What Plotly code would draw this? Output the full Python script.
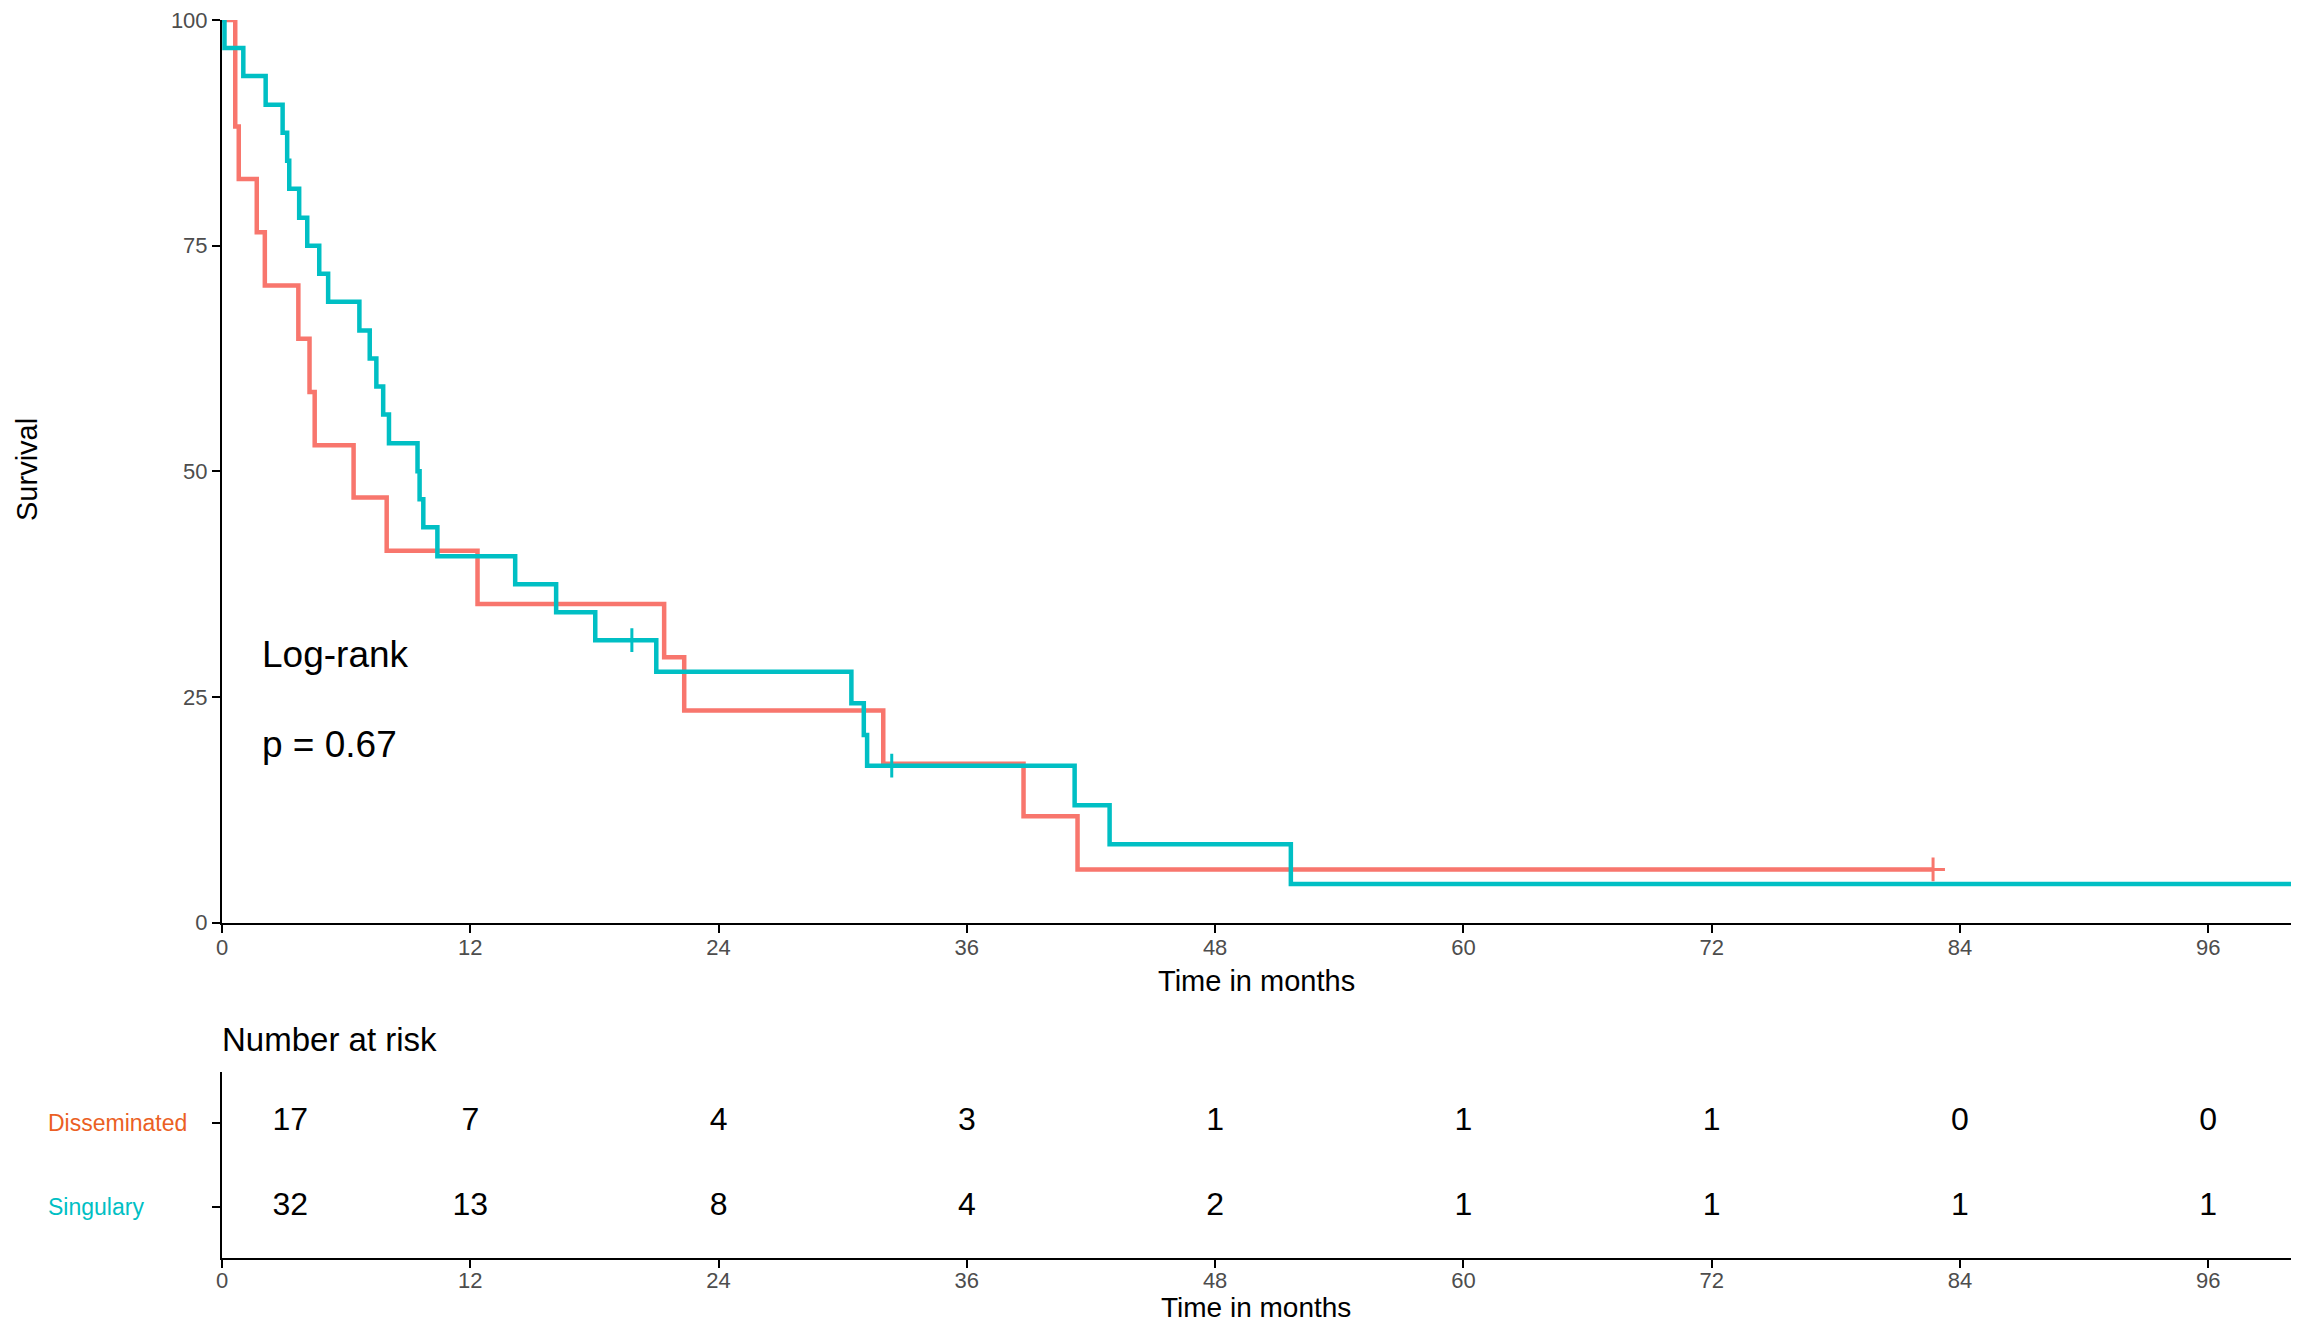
import plotly.graph_objects as go

# Kaplan-Meier curves (time in months, survival in %)
dis_time = [0, 0.64, 0.81, 1.68, 2.07, 3.69, 4.23, 4.48, 6.36, 7.96, 12.35,
            21.37, 22.34, 31.96, 38.74, 41.35, 82.7]
dis_surv = [100, 88.2, 82.4, 76.5, 70.6, 64.7, 58.8, 52.9, 47.1, 41.2, 35.3,
            29.4, 23.5, 17.6, 11.8, 5.9, 5.9]
dis_cens_time = [82.7]
dis_cens_surv = [5.9]

sin_time = [0, 0.12, 1.03, 2.11, 2.93, 3.15, 3.25, 3.73, 4.12, 4.70, 5.13,
            6.64, 7.14, 7.46, 7.79, 8.07, 9.45, 9.55, 9.73, 10.41, 14.17,
            16.15, 18.04, 20.99, 30.42, 31.02, 31.18, 41.21, 42.9, 51.66, 100]
sin_surv = [100, 96.9, 93.8, 90.6, 87.5, 84.4, 81.3, 78.1, 75.0, 71.9, 68.8,
            65.6, 62.5, 59.4, 56.3, 53.1, 50.0, 46.9, 43.8, 40.6, 37.5,
            34.4, 31.3, 27.8, 24.3, 20.8, 17.4, 13.0, 8.7, 4.3, 4.3]
sin_cens_time = [19.81, 32.37]
sin_cens_surv = [31.3, 17.4]

# number-at-risk table
groups = ["Disseminated", "Singulary"]
risk_time = [3.3, 12, 24, 36, 48, 60, 72, 84, 96]
risk_dis = [17, 7, 4, 3, 1, 1, 1, 0, 0]
risk_sin = [32, 13, 8, 4, 2, 1, 1, 1, 1]

x_ticks = [0, 12, 24, 36, 48, 60, 72, 84, 96]
y_ticks = [0, 25, 50, 75, 100]

RED = "#F8766D"
TEAL = "#00BFC4"
FONT = "Liberation Sans, Arial, sans-serif"

# the page body has an 8px margin, so the figure is made smaller and
# positions measured on the full 2308x1332 canvas are shifted by it
OFF = 8
W, H = 2308 - 2 * OFF, 1332 - 2 * OFF


def px(x):
    return (x - OFF) / W


def py(y):
    return 1 - (y - OFF) / H


fig = go.Figure()

# survival curves
fig.add_trace(go.Scatter(x=dis_time, y=dis_surv, mode="lines", line_shape="hv",
                         line=dict(color=RED, width=4.5), xaxis="x", yaxis="y"))
fig.add_trace(go.Scatter(x=sin_time, y=sin_surv, mode="lines", line_shape="hv",
                         line=dict(color=TEAL, width=4.5), xaxis="x", yaxis="y"))
# censor marks
fig.add_trace(go.Scatter(x=dis_cens_time, y=dis_cens_surv, mode="markers",
                         marker=dict(symbol="cross-thin", size=17,
                                     line=dict(color=RED, width=3)),
                         xaxis="x", yaxis="y"))
fig.add_trace(go.Scatter(x=sin_cens_time, y=sin_cens_surv, mode="markers",
                         marker=dict(symbol="cross-thin", size=17,
                                     line=dict(color=TEAL, width=3)),
                         xaxis="x", yaxis="y"))

# risk table numbers
fig.add_trace(go.Scatter(x=risk_time, y=[2] * len(risk_time), mode="text",
                         text=[str(v) for v in risk_dis],
                         textfont=dict(size=32, color="black", family=FONT),
                         xaxis="x2", yaxis="y2"))
fig.add_trace(go.Scatter(x=risk_time, y=[1] * len(risk_time), mode="text",
                         text=[str(v) for v in risk_sin],
                         textfont=dict(size=32, color="black", family=FONT),
                         xaxis="x2", yaxis="y2"))

axis_style = dict(showgrid=False, zeroline=False, showline=True, linecolor="black",
                  linewidth=2, ticks="outside", ticklen=8, tickwidth=2,
                  tickcolor="black", automargin=False, ticklabeloverflow="allow",
                  tickfont=dict(size=22, color="#4D4D4D", family=FONT))

x_dom = [px(222), px(2291)]

fig.update_layout(
    width=W, height=H,
    template="none",
    showlegend=False,
    plot_bgcolor="white", paper_bgcolor="white",
    margin=dict(l=0, r=0, t=0, b=0),
    font=dict(family=FONT),
    xaxis=dict(domain=x_dom, range=[0, 100], tickvals=x_ticks, anchor="y",
               ticklabelstandoff=-4, **axis_style),
    yaxis=dict(domain=[py(922.7), py(20)], range=[0, 100],
               tickvals=y_ticks, anchor="x", **axis_style),
    xaxis2=dict(domain=x_dom, range=[0, 100], tickvals=x_ticks, anchor="y2",
                ticklabelstandoff=-6, **axis_style),
    yaxis2=dict(domain=[py(1258), py(1071.7)], range=[0.4, 2.6],
                tickvals=[1, 2], showticklabels=False, anchor="x2", **axis_style),
)

title_font = dict(size=29, color="black")
annotations = [
    dict(text="Survival", x=px(27), y=py(470), xref="paper", yref="paper",
         xanchor="center", yanchor="middle", textangle=-90, showarrow=False,
         font=title_font),
    dict(text="Time in months", x=px(1256), y=py(981), xref="paper",
         yref="paper", xanchor="center", yanchor="middle", showarrow=False,
         font=title_font),
    dict(text="Time in months", x=px(1256), y=py(1307), xref="paper",
         yref="paper", xanchor="center", yanchor="middle", showarrow=False,
         font=dict(size=28, color="black")),
    dict(text="Number at risk", x=px(220), y=py(1039), xref="paper",
         yref="paper", xanchor="left", yanchor="middle", showarrow=False,
         font=dict(size=33, color="black")),
    dict(text="Log-rank", x=1.85, y=29.7, xref="x", yref="y", xanchor="left",
         yanchor="middle", showarrow=False, font=dict(size=37, color="black")),
    dict(text="p = 0.67", x=1.85, y=19.7, xref="x", yref="y", xanchor="left",
         yanchor="middle", showarrow=False, font=dict(size=37, color="black")),
]
for name, row, col in zip(groups, [2, 1], ["#EB5F24", TEAL]):
    annotations.append(dict(text=name, x=px(46), y=row, xref="paper", yref="y2",
                            xanchor="left", yanchor="middle", showarrow=False,
                            font=dict(size=23, color=col)))
fig.update_layout(annotations=annotations)

fig.write_html("out.html")
